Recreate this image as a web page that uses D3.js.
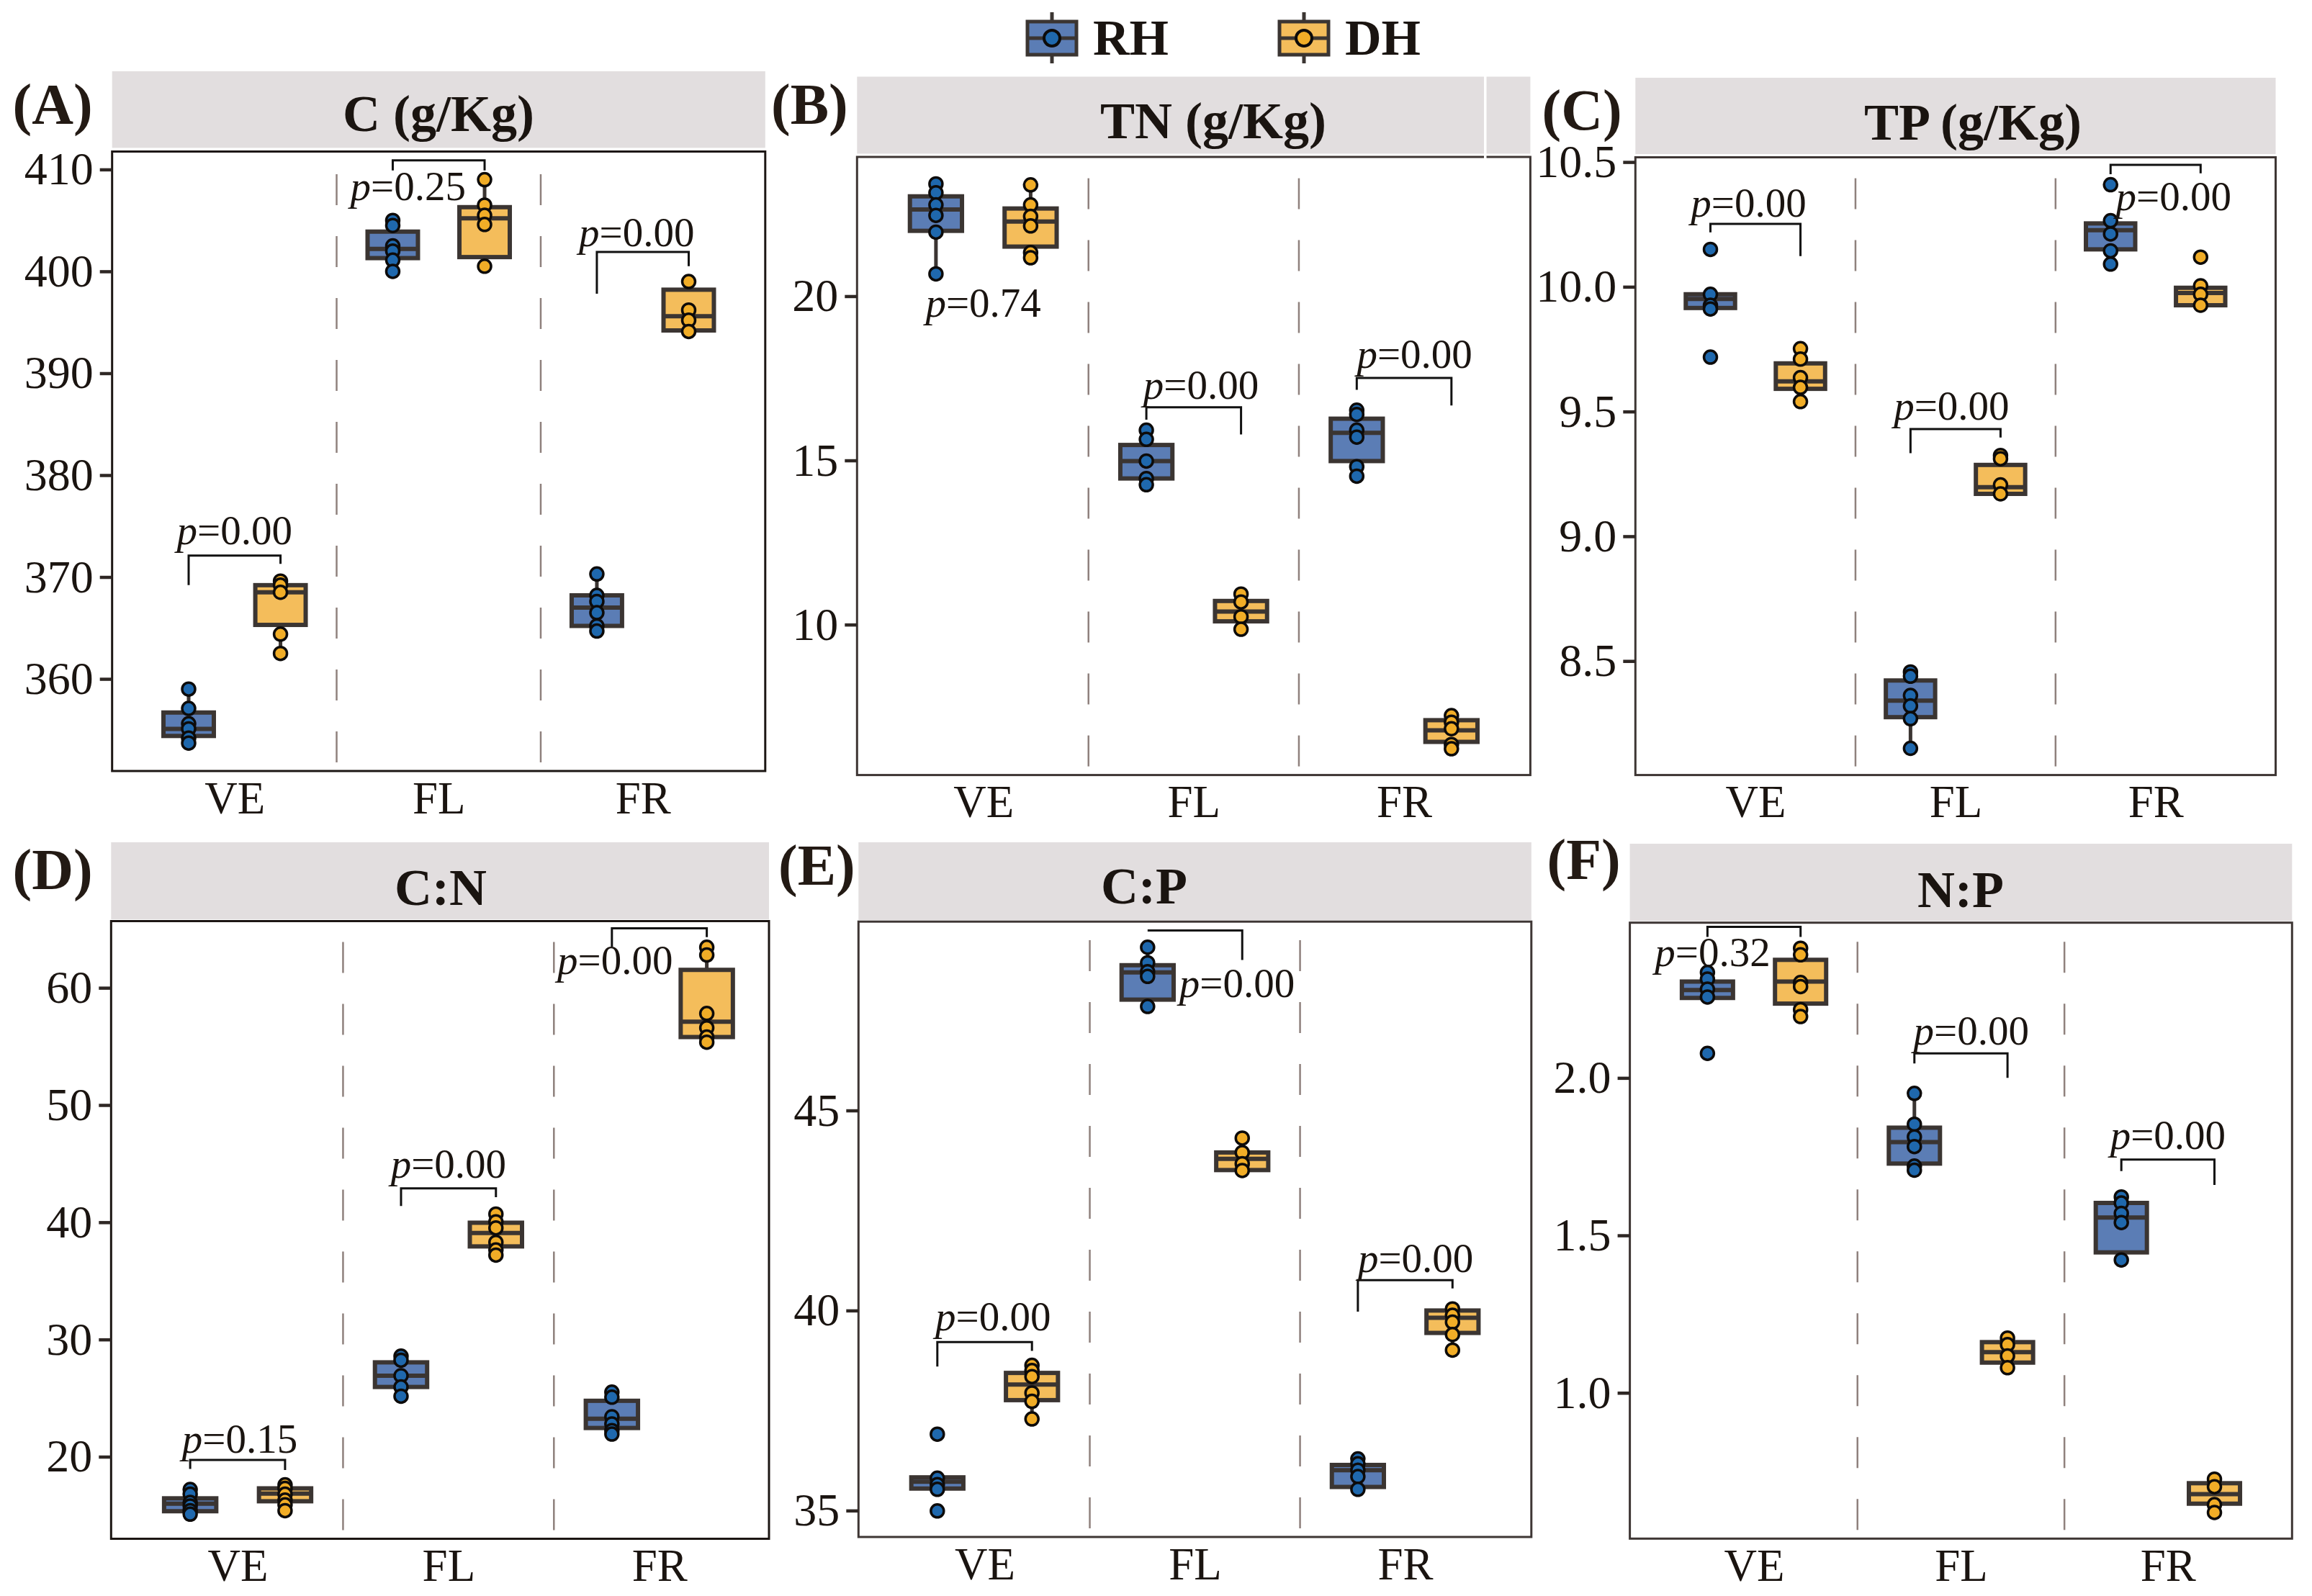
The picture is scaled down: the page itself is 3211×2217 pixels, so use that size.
<!DOCTYPE html>
<html>
<head>
<meta charset="utf-8">
<script src="https://cdn.jsdelivr.net/npm/d3@7"></script>
<style>
  html, body { margin: 0; padding: 0; background: #fff; }
  svg { display: block; font-family: "Liberation Serif", "Times New Roman", serif; }
</style>
</head>
<body>
<svg id="chart" width="3211" height="2217"></svg>
<script>
const categories = ["VE", "FL", "FR"];
const groups = ["RH", "DH"];

// rows: VE-RH, VE-DH, FL-RH, FL-DH, FR-RH, FR-DH
// box: [q1, median, q3, whisker low, whisker high]
const boxC = [
  [354.4, 355.1, 356.7, 353.7, 359.0], [365.3, 368.5, 369.2, 362.5, 369.6],
  [401.3, 402.2, 403.9, 400.0, 405.0], [401.4, 405.2, 406.3, 400.5, 409.0],
  [365.2, 367.0, 368.2, 364.7, 370.3], [394.2, 395.6, 398.2, 394.1, 399.0],
];
const ptsC = [
  [359.0, 357.1, 355.6, 355.1, 354.2, 353.7], [369.6, 369.2, 368.5, 364.4, 362.5],
  [405.0, 404.5, 402.5, 402.0, 401.1, 400.0], [409.0, 406.5, 405.5, 404.6, 400.5],
  [370.3, 368.2, 367.6, 366.5, 365.2, 364.7], [399.0, 396.2, 395.2, 394.1],
];
// bracket per site: [top, left tip, right tip]
const brC = [[372.1, 369.2, 371.3], [410.9, 409.9, 409.9], [401.9, 397.8, 400.5]];
const pC = ["0.00", "0.25", "0.00"];
const ticksC = [360, 370, 380, 390, 400, 410];

const boxTN = [
  [21.99, 22.64, 23.04, 20.68, 23.42], [21.51, 22.27, 22.67, 21.17, 23.39],
  [14.45, 14.98, 15.47, 14.26, 15.92], [10.10, 10.40, 10.72, 9.86, 10.93],
  [14.98, 15.84, 16.27, 14.52, 16.53], [6.43, 6.78, 7.09, 6.22, 7.23],
];
const ptsTN = [
  [23.42, 23.15, 22.78, 22.46, 21.95, 20.68], [23.39, 22.78, 22.43, 22.14, 21.33, 21.17],
  [15.92, 15.64, 14.98, 14.45, 14.26], [10.93, 10.69, 10.24, 9.86],
  [16.53, 16.40, 15.92, 15.71, 14.81, 14.52], [7.23, 7.03, 6.83, 6.35, 6.22],
];
const brTN = [null, [16.62, 16.24, 15.79], [17.51, 17.15, 16.67]];
const pTN = ["0.74", "0.00", "0.00"];
const ticksTN = [10, 15, 20];

const boxTP = [
  [9.915, 9.951, 9.970, 9.911, 9.970], [9.591, 9.621, 9.693, 9.540, 9.752],
  [8.275, 8.341, 8.422, 8.150, 8.456], [9.170, 9.197, 9.286, 9.170, 9.324],
  [10.150, 10.227, 10.254, 10.091, 10.265], [9.926, 9.975, 9.996, 9.926, 10.004],
];
const ptsTP = [
  [10.15, 9.970, 9.926, 9.911, 9.718], [9.752, 9.710, 9.636, 9.597, 9.540],
  [8.456, 8.439, 8.362, 8.320, 8.269, 8.150], [9.324, 9.311, 9.206, 9.170],
  [10.409, 10.265, 10.212, 10.144, 10.091], [10.119, 10.004, 9.970, 9.926],
];
const brTP = [[10.252, 10.218, 10.123], [9.430, 9.333, 9.396], [10.489, 10.451, 10.455]];
const pTP = ["0.00", "0.00", "0.00"];
const ticksTP = [8.5, 9.0, 9.5, 10.0, 10.5];

const boxCN = [
  [15.35, 16.0, 16.45, 15.1, 17.2], [16.2, 16.85, 17.3, 15.4, 17.6],
  [25.95, 26.91, 28.05, 25.16, 28.58], [37.94, 39.08, 39.96, 37.2, 40.7],
  [22.45, 23.24, 24.77, 21.93, 25.51], [55.80, 57.11, 61.53, 55.36, 63.46],
];
const ptsCN = [
  [17.2, 16.8, 16.1, 15.8, 15.4, 15.1], [17.6, 17.3, 16.8, 16.3, 15.9, 15.4],
  [28.58, 28.23, 26.91, 25.95, 25.16], [40.7, 40.04, 39.52, 38.29, 37.64, 37.2],
  [25.51, 25.08, 23.41, 22.80, 22.23, 21.93], [63.46, 62.80, 57.81, 56.59, 55.80, 55.36],
];
const brCN = [[19.73, 18.96, 18.86], [42.89, 41.38, 42.14], [65.08, 63.5, 64.33]];
const pCN = ["0.15", "0.00", "0.00"];
const ticksCN = [20, 30, 40, 50, 60];

const boxCP = [
  [35.55, 35.72, 35.83, 35.53, 35.81], [37.76, 38.15, 38.44, 37.29, 38.63],
  [47.77, 48.45, 48.63, 47.60, 49.08], [43.51, 43.79, 43.95, 43.50, 44.31],
  [35.59, 36.01, 36.14, 35.53, 36.29], [39.44, 39.82, 40.00, 39.01, 40.04],
];
const ptsCP = [
  [36.91, 35.81, 35.65, 35.53, 34.99], [38.63, 38.50, 38.35, 37.94, 37.73, 37.29],
  [49.08, 48.69, 48.47, 48.35, 47.60], [44.31, 43.95, 43.67, 43.50],
  [36.29, 36.17, 36.01, 35.85, 35.53], [40.04, 39.88, 39.71, 39.40, 39.01],
];
const brCP = [[39.21, 38.6, 38.99], [49.5, 49.5, 48.76], [40.76, 39.97, 40.55]];
const pCP = ["0.00", "0.00", "0.00"];
const ticksCP = [35, 40, 45];

const boxNP = [
  [2.254, 2.279, 2.306, 2.254, 2.335], [2.236, 2.306, 2.375, 2.195, 2.412],
  [1.728, 1.796, 1.842, 1.707, 1.951], [1.096, 1.129, 1.161, 1.080, 1.174],
  [1.446, 1.557, 1.603, 1.422, 1.622], [0.648, 0.678, 0.713, 0.620, 0.726],
];
const ptsNP = [
  [2.335, 2.314, 2.282, 2.257, 2.078], [2.412, 2.391, 2.303, 2.290, 2.217, 2.195],
  [1.951, 1.853, 1.813, 1.782, 1.720, 1.707], [1.174, 1.153, 1.117, 1.080],
  [1.622, 1.603, 1.570, 1.541, 1.422], [0.726, 0.702, 0.645, 0.620],
];
const brNP = [[2.48, 2.448, 2.448], [2.078, 2.046, 2.0], [1.741, 1.704, 1.66]];
const pNP = ["0.32", "0.00", "0.00"];
const ticksNP = [1.0, 1.5, 2.0];

const boxFill = ["#5b7db5", "#f4bd5b"];
const dotFill = ["#1f68ad", "#f1ad27"];
const ink = "#1a1410";
const boxStroke = "#3b3532";
const stripFill = "#e2dedf";

const f0 = d3.format("d");
const f1 = d3.format(".1f");

const panels = [
  { tag: "(A)", title: "C (g/Kg)", box: boxC, pts: ptsC, br: brC, p: pC, ticks: ticksC, fmt: f0,
    dom: [350.96, 411.76], x0: 155.7, x1: 1062.8, y0: 210.5, y1: 1071, s0: 99, s1: 205.4,
    tx: 609, ty: 182, lx: 17.5, ly: 172, xr: 0.6, frame: "#1c1613",
    pAt: [[0, 373.2], [-0.15, 407.0], [-0.03, 402.5]] },
  { tag: "(B)", title: "TN (g/Kg)", box: boxTN, pts: ptsTN, br: brTN, p: pTN, ticks: ticksTN, fmt: f0,
    dom: [5.42, 24.24], x0: 1190.3, x1: 2125.4, y0: 218, y1: 1076.6, s0: 106.5, s1: 213.5,
    tx: 1685, ty: 192, lx: 1071, ly: 172, xr: 0.6, frame: "#3e3634", gap: 2061,
    pAt: [[0, 19.37], [0.035, 16.88], [0.05, 17.81]] },
  { tag: "(C)", title: "TP (g/Kg)", box: boxTP, pts: ptsTP, br: brTP, p: pTP, ticks: ticksTP, fmt: f1,
    dom: [8.043, 10.519], x0: 2271.3, x1: 3160.5, y0: 218.5, y1: 1076.6, s0: 108, s1: 214,
    tx: 2740, ty: 194, lx: 2141.6, ly: 180, xr: 0.6, frame: "#3e3634",
    pAt: [[-0.034, 10.282], [-0.02, 9.466], [0.09, 10.307]] },
  { tag: "(D)", title: "C:N", box: boxCN, pts: ptsCN, br: brCN, p: pCN, ticks: ticksCN, fmt: f0,
    dom: [13.0, 65.69], x0: 154.3, x1: 1068, y0: 1279.5, y1: 2137.5, s0: 1170, s1: 1277,
    tx: 612, ty: 1257, lx: 17.5, ly: 1235, xr: 0.52, frame: "#1c1613",
    pAt: [[0.01, 20.31], [0, 43.81], [-0.21, 61.18]] },
  { tag: "(E)", title: "C:P", box: boxCP, pts: ptsCP, br: brCP, p: pCP, ticks: ticksCP, fmt: f0,
    dom: [34.34, 49.72], x0: 1192.3, x1: 2126.8, y0: 1280.2, y1: 2135, s0: 1170, s1: 1278,
    tx: 1589, ty: 1255, lx: 1081, ly: 1229, xr: 0.6, frame: "#3e3634",
    pAt: [[0.04, 39.5], [0.2, 47.83], [0.05, 40.97]] },
  { tag: "(F)", title: "N:P", box: boxNP, pts: ptsNP, br: brNP, p: pNP, ticks: ticksNP, fmt: f1,
    dom: [0.537, 2.493], x0: 2263.6, x1: 3183.3, y0: 1281.7, y1: 2137.3, s0: 1172, s1: 1279.5,
    tx: 2723, ty: 1260, lx: 2148.6, ly: 1221, xr: 0.6, frame: "#3e3634",
    pAt: [[-0.2, 2.355], [0.05, 2.107], [0, 1.774]] },
];

const svg = d3.select("#chart");
svg.append("rect").attr("width", 3211).attr("height", 2217).attr("fill", "#fff");

const dodge = 0.225;
const boxW = 0.268;

const drawBox = (g, cx, y, b, gi, w) => {
  const [q1, med, q3, lo, hi] = b;
  g.append("line").attr("x1", cx).attr("x2", cx).attr("y1", y(hi)).attr("y2", y(lo))
    .attr("stroke", boxStroke).attr("stroke-width", 5);
  g.append("rect").attr("x", cx - w / 2).attr("y", y(q3))
    .attr("width", w).attr("height", Math.max(0, y(q1) - y(q3)))
    .attr("fill", boxFill[gi]).attr("stroke", boxStroke).attr("stroke-width", 6);
  g.append("line").attr("x1", cx - w / 2).attr("x2", cx + w / 2)
    .attr("y1", y(med)).attr("y2", y(med))
    .attr("stroke", boxStroke).attr("stroke-width", 6);
};

for (const o of panels) {
  const x = d3.scaleLinear().domain([0.4, 3 + o.xr]).range([o.x0, o.x1]);
  const y = d3.scaleLinear().domain(o.dom).range([o.y1, o.y0]);
  const unit = x(2) - x(1);
  const g = svg.append("g");

  // facet strip
  g.append("rect").attr("x", o.x0).attr("y", o.s0)
    .attr("width", o.x1 - o.x0).attr("height", o.s1 - o.s0).attr("fill", stripFill);
  g.append("text").attr("x", o.tx).attr("y", o.ty).attr("text-anchor", "middle")
    .attr("font-size", 72).attr("font-weight", "bold").attr("fill", ink).text(o.title);
  g.append("text").attr("x", o.lx).attr("y", o.ly)
    .attr("font-size", 80).attr("font-weight", "bold").attr("fill", "#231a14").text(o.tag);

  // site separators
  g.selectAll(".sep").data([1.5, 2.5]).join("line")
    .attr("x1", (d) => x(d)).attr("x2", (d) => x(d))
    .attr("y1", o.y1 - 12).attr("y2", o.y0 + 10)
    .attr("stroke", "#8f817d").attr("stroke-width", 2.5).attr("stroke-dasharray", "43 43");

  // boxes and points
  o.box.forEach((b, i) => {
    const ci = Math.floor(i / 2), gi = i % 2;
    const cx = x(ci + 1 + (gi ? dodge : -dodge));
    drawBox(g, cx, y, b, gi, boxW * unit - 6);
  });
  o.pts.forEach((vals, i) => {
    const ci = Math.floor(i / 2), gi = i % 2;
    const cx = x(ci + 1 + (gi ? dodge : -dodge));
    g.selectAll(null).data(vals).join("circle")
      .attr("cx", cx).attr("cy", (d) => y(d)).attr("r", 9)
      .attr("fill", dotFill[gi]).attr("stroke", "#0d0b0a").attr("stroke-width", 3.5);
  });

  // comparison brackets and p values
  o.br.forEach((b, ci) => {
    if (!b) return;
    const xl = x(ci + 1 - dodge), xr = x(ci + 1 + dodge);
    g.append("path")
      .attr("d", `M${xl},${y(b[1])}V${y(b[0])}H${xr}V${y(b[2])}`)
      .attr("fill", "none").attr("stroke", "#111").attr("stroke-width", 3);
  });
  o.p.forEach((pv, ci) => {
    const [dx, ty] = o.pAt[ci];
    const t = g.append("text").attr("x", x(ci + 1 + dx)).attr("y", y(ty))
      .attr("text-anchor", "middle").attr("font-size", 57).attr("fill", ink);
    t.append("tspan").attr("font-style", "italic").text("p");
    t.append("tspan").text("=" + pv);
  });

  // panel frame
  g.append("rect").attr("x", o.x0).attr("y", o.y0)
    .attr("width", o.x1 - o.x0).attr("height", o.y1 - o.y0)
    .attr("fill", "none").attr("stroke", o.frame).attr("stroke-width", 3);

  // axes
  const ya = g.append("g").attr("transform", `translate(${o.x0},0)`)
    .call(d3.axisLeft(y).tickValues(o.ticks).tickFormat(o.fmt).tickSize(17).tickPadding(9));
  ya.select(".domain").remove();
  ya.selectAll(".tick line").attr("stroke", "#2e2724").attr("stroke-width", 4.5);
  ya.selectAll(".tick text").attr("font-size", 64).attr("fill", ink)
    .attr("font-family", "Liberation Serif, Times New Roman, serif");

  const xa = g.append("g").attr("transform", `translate(0,${o.y1})`)
    .call(d3.axisBottom(x).tickValues([1, 2, 3]).tickFormat((d) => categories[d - 1])
      .tickSize(0).tickPadding(14));
  xa.select(".domain").remove();
  xa.selectAll(".tick text").attr("font-size", 63).attr("fill", ink)
    .attr("font-family", "Liberation Serif, Times New Roman, serif");

  if (o.gap) {
    g.append("rect").attr("x", o.gap).attr("y", o.s0 - 1).attr("width", 3.5)
      .attr("height", o.y0 - o.s0 + 4).attr("fill", "#fff");
  }
}

// legend
const legendX = [1461, 1811];
groups.forEach((name, gi) => {
  const cx = legendX[gi];
  const lg = svg.append("g");
  lg.append("line").attr("x1", cx).attr("x2", cx).attr("y1", 17).attr("y2", 88)
    .attr("stroke", boxStroke).attr("stroke-width", 5);
  lg.append("rect").attr("x", cx - 34).attr("y", 30).attr("width", 68).attr("height", 46)
    .attr("fill", boxFill[gi]).attr("stroke", boxStroke).attr("stroke-width", 5);
  lg.append("line").attr("x1", cx - 34).attr("x2", cx + 34).attr("y1", 53).attr("y2", 53)
    .attr("stroke", boxStroke).attr("stroke-width", 5);
  lg.append("circle").attr("cx", cx).attr("cy", 53).attr("r", 11)
    .attr("fill", dotFill[gi]).attr("stroke", "#0d0b0a").attr("stroke-width", 4);
  lg.append("text").attr("x", cx + 57).attr("y", 76).attr("font-size", 70)
    .attr("font-weight", "bold").attr("fill", ink).text(name);
});
</script>
</body>
</html>
